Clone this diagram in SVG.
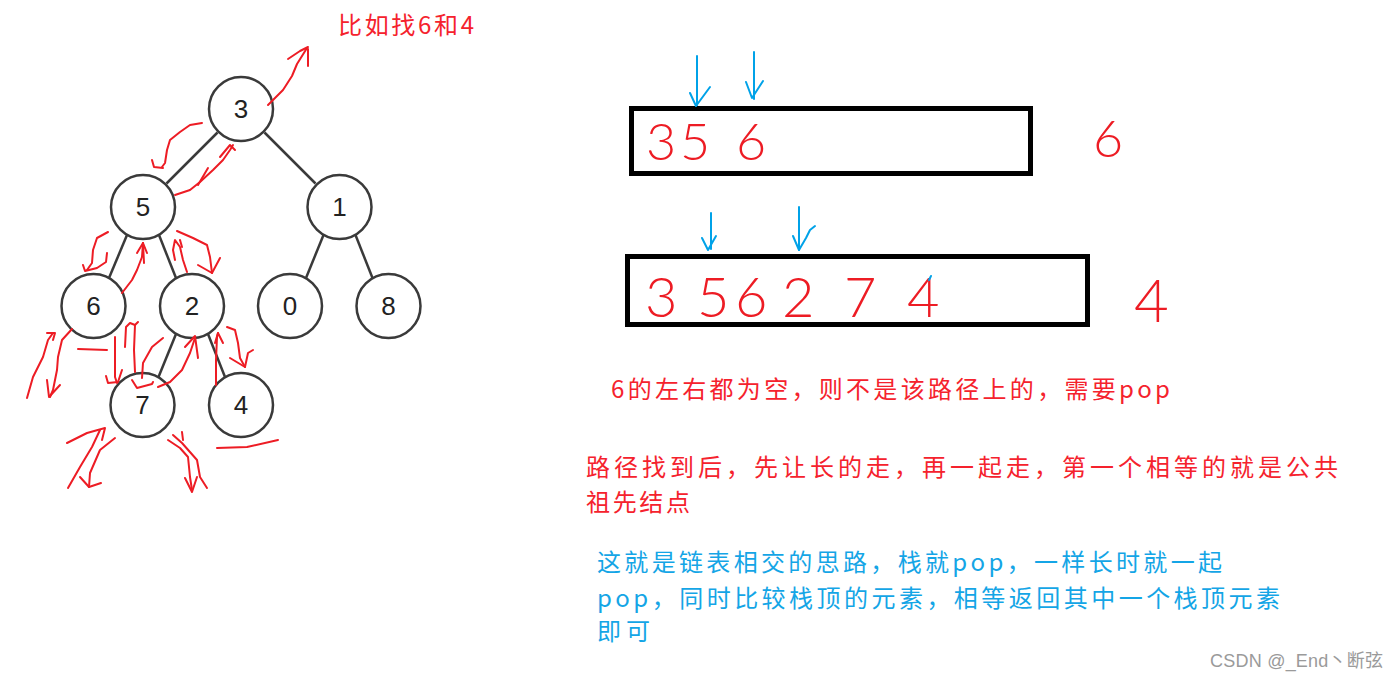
<svg xmlns="http://www.w3.org/2000/svg" width="1399" height="679" viewBox="0 0 1399 679">
<style>
.edge{stroke:#3a3a3a;stroke-width:2.5;fill:none}
.node circle{fill:#fff;stroke:#3a3a3a;stroke-width:2.5}
.node text{font-family:"Liberation Sans",Arial,sans-serif;font-size:26px;fill:#222;text-anchor:middle}
.red{stroke:#ed1c24;stroke-width:2;fill:none;stroke-linecap:round;stroke-linejoin:round}
.blue{stroke:#00a2e8;stroke-width:2;fill:none;stroke-linecap:round;stroke-linejoin:round}
.box{fill:none;stroke:#000;stroke-width:5}
.cn{font-family:"Noto Sans CJK SC","Noto Sans CJK JP",sans-serif;font-size:24px}
.rt{fill:#f5222d}
.bt{fill:#14a5e6}
.hand{font-family:Lato,Roboto,"Liberation Sans",sans-serif;font-weight:300;fill:#ed1c24}
</style>
<rect width="1399" height="679" fill="#fff"/>
<g id="edges">
<line class="edge" x1="217.5" y1="132.5" x2="166.5" y2="183.5"/>
<line class="edge" x1="264.5" y1="132.5" x2="315.5" y2="183.5"/>
<line class="edge" x1="127" y1="235" x2="109" y2="278"/>
<line class="edge" x1="159" y1="235" x2="176" y2="278"/>
<line class="edge" x1="323.5" y1="235" x2="306" y2="278"/>
<line class="edge" x1="355.5" y1="235" x2="372.5" y2="278"/>
<line class="edge" x1="176" y1="334" x2="158.5" y2="377"/>
<line class="edge" x1="208" y1="334" x2="225" y2="377"/>
</g>
<g id="node-3" class="node"><circle cx="241" cy="109" r="32"/><text x="241" y="118">3</text></g>
<g id="node-5" class="node"><circle cx="143" cy="207" r="32"/><text x="143" y="216">5</text></g>
<g id="node-1" class="node"><circle cx="339.5" cy="207" r="32"/><text x="339.5" y="216">1</text></g>
<g id="node-6" class="node"><circle cx="93.5" cy="306" r="32"/><text x="93.5" y="315">6</text></g>
<g id="node-2" class="node"><circle cx="192" cy="306" r="32"/><text x="192" y="315">2</text></g>
<g id="node-0" class="node"><circle cx="290" cy="306" r="32"/><text x="290" y="315">0</text></g>
<g id="node-8" class="node"><circle cx="388.5" cy="306" r="32"/><text x="388.5" y="315">8</text></g>
<g id="node-7" class="node"><circle cx="142.5" cy="405" r="32"/><text x="142.5" y="414">7</text></g>
<g id="node-4" class="node"><circle cx="241" cy="405" r="32"/><text x="241" y="414">4</text></g>
<g id="annotations">
<polyline class="red" points="268,105 283,90 292,76 297,64 307,48"/>
<polyline class="red" points="288,59 300,51 308,47"/>
<polyline class="red" points="308,49 308,66"/>
<polyline class="red" points="202,123 190,125 180,132 170,140 167,150 165,163 162,167"/>
<polyline class="red" points="152,160 154,167 163,168"/>
<polyline class="red" points="175,195 190,190 200,182 213,170 223,160 230,150 233,145"/>
<polyline class="red" points="198,185 208,168"/>
<polyline class="red" points="220,157 230,145 235,150"/>
<polyline class="red" points="108,232 97,238 93,250 92,263 87,270"/>
<polyline class="red" points="83,265 85,271 97,268 106,262 107,253"/>
<polyline class="red" points="122,293 132,280 137,270 142,257 143,243"/>
<polyline class="red" points="137,253 143,243 147,253"/>
<polyline class="red" points="143,243 144,263"/>
<polyline class="red" points="177,231 193,238 207,245 210,257 212,273"/>
<polyline class="red" points="198,265 212,273 220,258"/>
<polyline class="red" points="187,272 183,260 180,247 175,240 173,250 175,260"/>
<polyline class="red" points="180,240 182,247"/>
<polyline class="red" points="27,398 33,377 43,357 48,340 53,333"/>
<polyline class="red" points="47,333 55,333 53,340"/>
<polyline class="red" points="72,329 62,340 58,357 57,370 53,390 50,397"/>
<polyline class="red" points="47,380 49,397 60,385"/>
<polyline class="red" points="78,349 107,350"/>
<polyline class="red" points="115,337 115,377 117,383"/>
<polyline class="red" points="106,376 108,383 118,382 122,370"/>
<polyline class="red" points="135,372 134,350 135,325 130,323 126,327 125,347"/>
<polyline class="red" points="135,325 138,322"/>
<polyline class="red" points="163,338 152,347 143,363 142,378"/>
<polyline class="red" points="132,380 137,388 152,384 153,382"/>
<polyline class="red" points="158,387 170,382 182,370 190,353 195,338"/>
<polyline class="red" points="185,347 195,336 198,358"/>
<polyline class="red" points="216,385 216,360 217,337 218,333"/>
<polyline class="red" points="215,343 218,333 223,343"/>
<polyline class="red" points="227,327 235,330 238,343 240,358 245,367"/>
<polyline class="red" points="230,358 245,367 248,353 253,350"/>
<polyline class="red" points="217,448 247,447 278,440"/>
<polyline class="red" points="67,443 87,433 105,428 102,440"/>
<polyline class="red" points="68,488 80,467 92,447 100,430"/>
<polyline class="red" points="115,438 100,450 90,473 89,487"/>
<polyline class="red" points="80,477 89,487 101,483"/>
<polyline class="red" points="168,440 180,448 188,457 190,477 192,490"/>
<polyline class="red" points="173,435 182,443 197,460 200,477 207,488"/>
<polyline class="red" points="182,432 183,440"/>
<polyline class="red" points="185,478 192,492 197,477"/>
</g>
<g id="stack-1">
<rect class="box" x="631.5" y="108.5" width="399" height="65"/>
<text class="hand" font-size="52" x="646 680 736" y="160">356</text>
<polyline class="blue" points="697,56 697,105"/>
<polyline class="blue" points="690,93 696,106 710,87"/>
<polyline class="blue" points="754,52 754,99"/>
<polyline class="blue" points="746,82 752,98 763,81"/>
</g>
<g id="stack-2">
<rect class="box" x="627.5" y="256.5" width="460" height="68"/>
<text class="hand" font-size="56" x="645 697 735 782 844 907" y="317">356274</text>
<polyline class="blue" points="931,276 929,280"/>
<polyline class="blue" points="711,213 711,249"/>
<polyline class="blue" points="702,238 708,250 716,236"/>
<polyline class="blue" points="799,207 799,250"/>
<polyline class="blue" points="793,236 799,250 806,238 810,230 815,226"/>
</g>
<text class="hand" font-size="52" x="1093" y="157">6</text>
<text class="hand" font-size="60" x="1134" y="322">4</text>
<g id="texts">
<text class="cn rt" x="338" y="34" textLength="136" lengthAdjust="spacing">比如找6和4</text>
<text class="cn rt" x="611" y="398" textLength="559" lengthAdjust="spacing">6的左右都为空，则不是该路径上的，需要pop</text>
<text class="cn rt" x="586" y="476" textLength="752" lengthAdjust="spacing">路径找到后，先让长的走，再一起走，第一个相等的就是公共</text>
<text class="cn rt" x="586" y="511" textLength="104" lengthAdjust="spacing">祖先结点</text>
<text class="cn bt" x="597" y="571" textLength="625" lengthAdjust="spacing">这就是链表相交的思路，栈就pop，一样长时就一起</text>
<text class="cn bt" x="597" y="607" textLength="683" lengthAdjust="spacing">pop，同时比较栈顶的元素，相等返回其中一个栈顶元素</text>
<text class="cn bt" x="597" y="640" textLength="53" lengthAdjust="spacing">即可</text>
<text x="1210" y="667" font-family="'Liberation Sans','Noto Sans CJK SC',sans-serif" font-size="18" fill="#9a9a9a" textLength="173" lengthAdjust="spacing">CSDN @_End丶断弦</text>
</g>
</svg>
